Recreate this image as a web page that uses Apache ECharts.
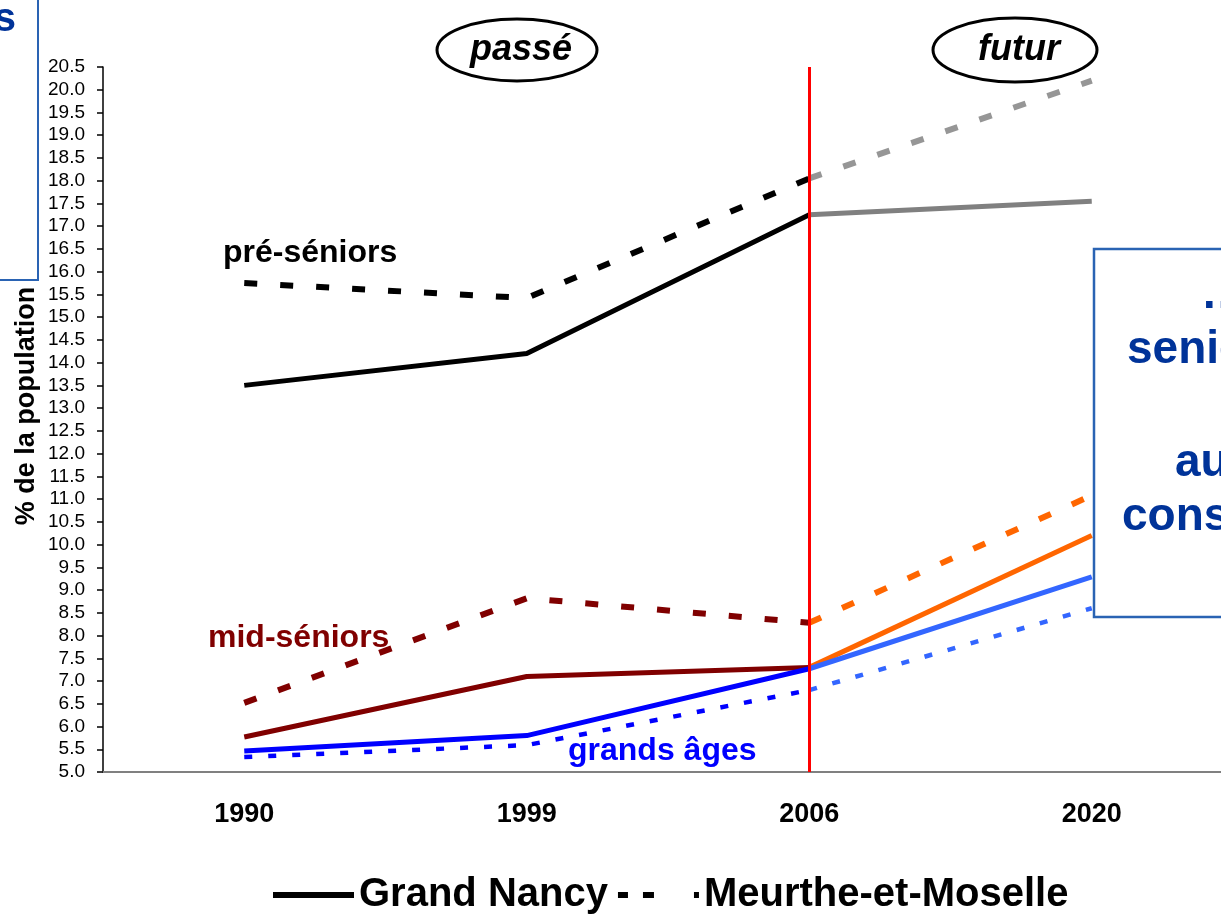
<!DOCTYPE html>
<html>
<head>
<meta charset="utf-8">
<script src="https://cdn.jsdelivr.net/npm/echarts@6/dist/echarts.min.js"></script>
<style>html,body{margin:0;padding:0;background:#fff}#c{width:1221px;height:915px}</style>
</head>
<body>
<div id="c"></div>
<script>
// ---- data ----
const years = ['1990', '1999', '2006', '2020'];
const yTicks = { min: 5, max: 20.5, step: 0.5 };
// pré-séniors
const preGN_past = [13.5, 14.2, 17.25, null];
const preGN_fut = [null, null, 17.25, 17.55];
const preMM_past = [15.75, 15.42, 18.05, null];
const preMM_fut = [null, null, 18.05, 20.2];
// mid-séniors
const midGN_past = [5.77, 7.1, 7.3, null];
const midGN_fut = [null, null, 7.3, 10.2];
const midMM_past = [6.52, 8.82, 8.28, null];
const midMM_fut = [null, null, 8.28, 11.08];
// grands âges
const grGN_past = [5.46, 5.8, 7.27, null];
const grGN_fut = [null, null, 7.27, 9.29];
const grMM_past = [5.33, 5.59, 6.8, null];
const grMM_fut = [null, null, 6.8, 8.6];
const legendNames = ['Grand Nancy', 'Meurthe-et-Moselle'];
const splitYear = '2006';

const FONT = '"Liberation Sans", Arial, sans-serif';
const DASH = [13, 23];
const DOT = [8, 16];

function ln(name, data, color, type, width) {
  return {
    name: name, type: 'line', data: data, symbol: 'none', silent: true,
    connectNulls: false, z: 3,
    lineStyle: { color: color, width: width, type: type, cap: 'butt' },
    emphasis: { disabled: true }
  };
}

const series = [
  ln('pre GN', preGN_past, '#000000', 'solid', 5),
  ln('pre GN f', preGN_fut, '#808080', 'solid', 5),
  ln('pre MM', preMM_past, '#000000', DASH, 6),
  ln('pre MM f', preMM_fut, '#969696', DASH, 6),
  ln('mid GN', midGN_past, '#800000', 'solid', 5),
  ln('mid GN f', midGN_fut, '#ff6600', 'solid', 5),
  ln('mid MM', midMM_past, '#800000', DASH, 6),
  ln('mid MM f', midMM_fut, '#ff6600', DASH, 6),
  ln('gr GN', grGN_past, '#0000ff', 'solid', 5),
  ln('gr GN f', grGN_fut, '#3366ff', 'solid', 5),
  ln('gr MM', grMM_past, '#0000ff', DOT, 4.5),
  ln('gr MM f', grMM_fut, '#3366ff', DOT, 4.5),
  { name: legendNames[0], type: 'line', data: [], symbol: 'none',
    lineStyle: { color: '#000', width: 5 }, itemStyle: { color: '#000' } },
  { name: legendNames[1], type: 'line', data: [], symbol: 'none',
    lineStyle: { color: '#000', width: 6 }, itemStyle: { color: '#000' } }
];
// red separator past / future
series[0].markLine = {
  silent: true, symbol: ['none', 'none'], z: 10,
  label: { show: false },
  lineStyle: { color: '#ff0000', width: 3, type: 'solid' },
  emphasis: { disabled: true },
  data: [{ xAxis: splitYear }]
};

const chart = echarts.init(document.getElementById('c'), null, { renderer: 'canvas' });
chart.setOption({
  animation: false,
  backgroundColor: '#ffffff',
  grid: { left: 103, top: 67, width: 1130, height: 705, containLabel: false, outerBoundsMode: 'none' },
  xAxis: {
    type: 'category', data: years, boundaryGap: true,
    axisLine: { lineStyle: { color: '#808080', width: 2 } },
    axisTick: { show: false },
    axisLabel: { color: '#000', fontFamily: FONT, fontWeight: 'bold', fontSize: 27, margin: 29 },
    splitLine: { show: false }
  },
  yAxis: {
    type: 'value', min: yTicks.min, max: yTicks.max, interval: yTicks.step,
    axisLine: { show: true, lineStyle: { color: '#000', width: 1.5 } },
    axisTick: { show: true, length: 6, lineStyle: { color: '#000', width: 1.5 } },
    axisLabel: { color: '#000', fontFamily: FONT, fontSize: 19, margin: 18,
      formatter: v => v.toFixed(1) },
    splitLine: { show: false }
  },
  legend: {
    data: [
      { name: legendNames[0], icon: 'path://M0,0.6h81v4.8h-81z' },
      { name: legendNames[1], icon: 'path://M0,0h10v6h-10z M25,0h11v6h-11z M76,0h5v6h-5z' }
    ],
    left: 268, top: 870, itemWidth: 81, itemHeight: 6, itemGap: 10,
    symbolKeepAspect: false, selectedMode: false,
    itemStyle: { color: '#000' },
    textStyle: { color: '#000', fontFamily: FONT, fontWeight: 'bold', fontSize: 40 }
  },
  series: series,
  graphic: [
    // y axis title
    { type: 'text', x: 27, y: 406, rotation: Math.PI / 2, silent: true,
      style: { text: '% de la population', font: 'bold 27px ' + FONT, fill: '#000',
        textAlign: 'center', textVerticalAlign: 'middle' } },
    // group labels
    { type: 'text', x: 223, y: 253, silent: true,
      style: { text: 'pré-séniors', font: 'bold 32px ' + FONT, fill: '#000', textAlign: 'left', textVerticalAlign: 'middle' } },
    { type: 'text', x: 208, y: 638, silent: true,
      style: { text: 'mid-séniors', font: 'bold 32px ' + FONT, fill: '#800000', textAlign: 'left', textVerticalAlign: 'middle' } },
    { type: 'text', x: 568, y: 751, silent: true,
      style: { text: 'grands âges', font: 'bold 32px ' + FONT, fill: '#0000ff', textAlign: 'left', textVerticalAlign: 'middle' } },
    // ellipses passé / futur
    { type: 'ellipse', shape: { cx: 517, cy: 50, rx: 80, ry: 31 }, silent: true,
      style: { fill: '#fff', stroke: '#000', lineWidth: 3 } },
    { type: 'text', x: 521, y: 50, silent: true,
      style: { text: 'passé', font: 'italic bold 36px ' + FONT, fill: '#000', textAlign: 'center', textVerticalAlign: 'middle' } },
    { type: 'ellipse', shape: { cx: 1015, cy: 50, rx: 82, ry: 32 }, silent: true,
      style: { fill: '#fff', stroke: '#000', lineWidth: 3 } },
    { type: 'text', x: 1019, y: 50, silent: true,
      style: { text: 'futur', font: 'italic bold 36px ' + FONT, fill: '#000', textAlign: 'center', textVerticalAlign: 'middle' } },
    // left cropped box
    { type: 'rect', shape: { x: -3, y: -3, width: 41, height: 283 }, silent: true, z: 50,
      style: { fill: '#fff', stroke: '#2a63b3', lineWidth: 2 } },
    { type: 'text', x: 16, y: 20, silent: true, z: 51,
      style: { text: 's', font: 'bold 40px ' + FONT, fill: '#003399', textAlign: 'right', textVerticalAlign: 'middle' } },
    // right cropped box
    { type: 'rect', shape: { x: 1094, y: 249, width: 200, height: 368 }, silent: true, z: 50,
      style: { fill: '#fff', stroke: '#2a63b3', lineWidth: 2.5 } },
    { type: 'text', x: 1201, y: 295, silent: true, z: 51,
      style: { text: '…les', font: 'bold 46px ' + FONT, fill: '#003399', textAlign: 'left', textVerticalAlign: 'middle' } },
    { type: 'text', x: 1127, y: 350, silent: true, z: 51,
      style: { text: 'seniors', font: 'bold 46px ' + FONT, fill: '#003399', textAlign: 'left', textVerticalAlign: 'middle' } },
    { type: 'text', x: 1175, y: 463, silent: true, z: 51,
      style: { text: 'augmentent', font: 'bold 46px ' + FONT, fill: '#003399', textAlign: 'left', textVerticalAlign: 'middle' } },
    { type: 'text', x: 1122, y: 517, silent: true, z: 51,
      style: { text: 'constamment', font: 'bold 46px ' + FONT, fill: '#003399', textAlign: 'left', textVerticalAlign: 'middle' } }
  ]
});
</script>
</body>
</html>
